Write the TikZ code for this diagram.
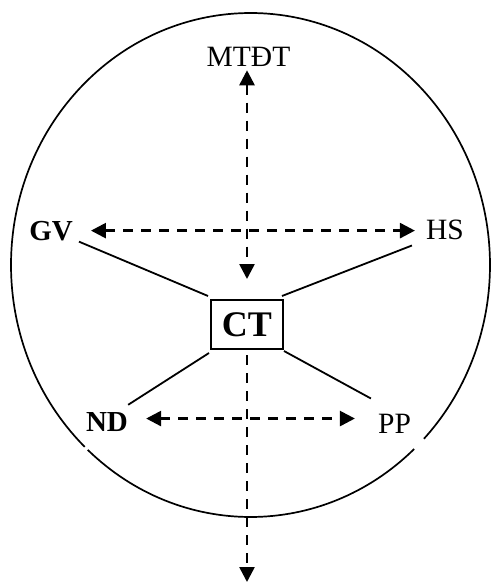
\documentclass[tikz,border=0pt]{standalone}
\usepackage{fontspec}
\setmainfont{Liberation Serif}
\usetikzlibrary{arrows.meta}
\begin{document}
\begin{tikzpicture}[x=1pt,y=-1pt,
  lbl/.style={inner sep=0pt,anchor=base,font=\fontsize{29.5}{29}\selectfont},
  blbl/.style={lbl,font=\fontsize{29}{29}\selectfont\bfseries},
  ctbox/.style={draw,line width=2pt,minimum width=72pt,minimum height=49pt,inner sep=0pt,font=\fontsize{36}{36}\selectfont\bfseries},
  dline/.style={line width=2.6pt,dash pattern=on 10pt off 8pt},
  tip/.style={-{Triangle[length=15pt,width=15pt]}},
  tips/.style={{Triangle[length=15pt,width=15pt]}-{Triangle[length=15pt,width=15pt]}},
  sline/.style={line width=1.8pt}]
\useasboundingbox (0,0) rectangle (491,583);
% outer ellipse (with two small gaps near ND and PP)
\draw[line width=1.7pt] (250.5,265) ++(133.8:239.5 and 252)
  arc[start angle=133.8,end angle=403.6,x radius=239.5,y radius=252];
\draw[line width=1.7pt] (250.5,265) ++(46.9:239.5 and 252)
  arc[start angle=46.9,end angle=132.8,x radius=239.5,y radius=252];
% nodes
\node[lbl] (mt) at (248.5,67) {MTĐT};
\node[blbl] (gv) at (51,240) {GV};
\node[lbl] (hs) at (445,239) {HS};
\node[ctbox] (ct) at (247,324.5) {CT};
\node[blbl] (nd) at (107,431) {ND};
\node[lbl] (pp) at (394.5,433) {PP};
\coordinate (bot) at (247,582);
% dashed arrows
\draw[dline,tips,shorten <=3pt,shorten >=20pt] (mt.south -| ct.north) -- (ct.north);
\draw[dline,tips,shorten <=18pt,shorten >=11pt] (gv.east) -- (gv.east -| hs.west);
\draw[dline,tips,shorten <=18pt,shorten >=23pt] ([yshift=3pt]nd.east) -- ([yshift=3pt]nd.east -| pp.west);
\draw[dline,tip,shorten <=5pt] (ct.south) -- (bot);
% solid connectors
\draw[sline] ([xshift=6pt,yshift=-1pt]gv.south east) -- ([xshift=-2pt,yshift=3pt]ct.north west);
\draw[sline] ([xshift=-14pt,yshift=-6pt]hs.south west) -- ([xshift=-2pt,yshift=3pt]ct.north east);
\draw[sline] ([yshift=7pt]nd.north east) -- ([xshift=-1pt,yshift=-3pt]ct.south west);
\draw[sline] ([xshift=-7pt,yshift=15pt]pp.north west) -- ([yshift=-1pt]ct.south east);
\end{tikzpicture}
\end{document}
